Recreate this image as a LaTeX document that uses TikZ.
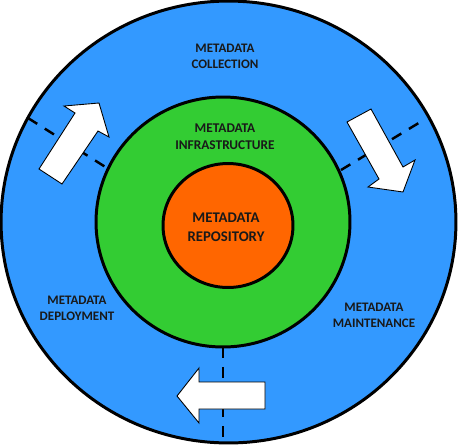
\documentclass[tikz,border=0pt]{standalone}
\usepackage{fontspec}
\setmainfont{Carlito}
\definecolor{anello}{RGB}{51,153,255}
\definecolor{verde}{RGB}{51,204,51}
\definecolor{arancio}{RGB}{255,102,0}
\tikzset{
  bordo/.style={draw=black,line width=1.7pt},
  divisore/.style={draw=black,line width=1.4pt,dash pattern=on 6.2pt off 5.1pt},
  freccia/.style={fill=white,draw=black,line width=0.5pt,line join=miter},
  testo/.style={align=center,font=\bfseries\fontsize{7.4}{9}\selectfont,text=black!90}
}
\begin{document}
\begin{tikzpicture}[x=0.02cm,y=-0.02cm]
        \useasboundingbox (0,0) rectangle (459,447);
        % Cerchio esterno
        \filldraw[bordo,fill=anello] (228.5,222) ellipse [x radius=4.55cm, y radius=4.42cm];
        % Divisori
        \draw[divisore] (28,118) -- (107,168);
        \draw[divisore] (341,170) -- (422,121);
        \draw[divisore] (223,347) -- (223,443);
        % Cerchio medio
        \filldraw[bordo,fill=verde] (223,222) ellipse [x radius=2.54cm, y radius=2.5cm];
        % Cerchio interno
        \filldraw[bordo,fill=arancio] (228,225.5) ellipse [x radius=1.3cm, y radius=1.24cm];
        % Frecce
        \filldraw[freccia] (39,169) -- (62,184) -- (98,131) -- (109,137) -- (99,103)
            -- (64,106) -- (75,113) -- cycle;
        \filldraw[freccia] (347,122) -- (371,109) -- (403,167) -- (415,160) -- (403,192)
            -- (368,187) -- (379,179) -- cycle;
        \filldraw[freccia] (265,382) -- (199,382) -- (199,368) -- (177,396) -- (199,423)
            -- (199,409) -- (265,409) -- cycle;
        % Etichette
        \node[testo] (raccolta) at (225,56) {METADATA\\COLLECTION};
        \node[testo,font=\bfseries\fontsize{7.6}{9.5}\selectfont] (infra) at (225,137) {METADATA\\INFRASTRUCTURE};
        \node[testo,font=\bfseries\fontsize{8.4}{10.8}\selectfont] (repo) at (226,227) {METADATA\\REPOSITORY};
        \node[testo] (distribuzione) at (77,308) {METADATA\\DEPLOYMENT};
        \node[testo] (manutenzione) at (374,315) {METADATA\\MAINTENANCE};
    \end{tikzpicture}
\end{document}
